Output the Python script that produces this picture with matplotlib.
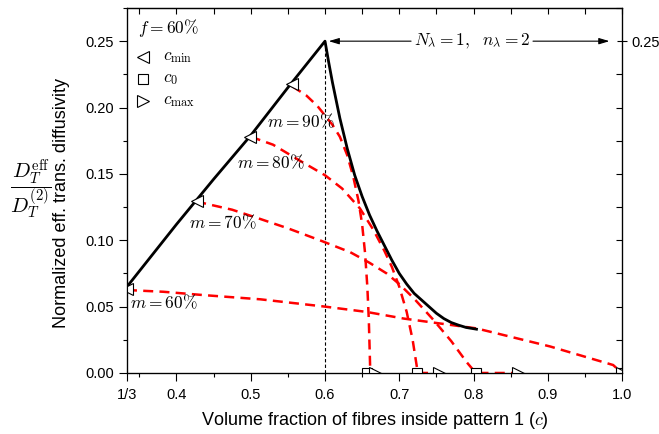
import matplotlib
matplotlib.use('Agg')
import matplotlib.pyplot as plt
from matplotlib.ticker import MultipleLocator, FixedLocator

plt.rcParams['font.family'] = 'Liberation Sans'
plt.rcParams['mathtext.fontset'] = 'cm'

# black envelope curve (N_lambda = 1, n_lambda = 2)
env_c = [1/3, 0.40, 0.45, 0.50, 0.55, 0.600, 0.605, 0.610, 0.620, 0.630, 0.640,
         0.650, 0.660, 0.670, 0.680, 0.690, 0.700, 0.710, 0.720, 0.730, 0.740,
         0.750, 0.760, 0.770, 0.780, 0.790, 0.804]
env_d = [0.065, 0.112, 0.146, 0.179, 0.215, 0.250, 0.234, 0.219, 0.192, 0.169, 0.149,
         0.133, 0.119, 0.107, 0.096, 0.085, 0.075, 0.067, 0.060, 0.055, 0.050,
         0.045, 0.041, 0.038, 0.0360, 0.0343, 0.033]

# red dashed curves for each m
m90_c = [0.556, 0.575, 0.590, 0.600, 0.610, 0.620, 0.630, 0.638, 0.645, 0.650,
         0.654, 0.657, 0.659, 0.661, 0.668]
m90_d = [0.216, 0.209, 0.201, 0.194, 0.187, 0.178, 0.164, 0.148, 0.130, 0.112,
         0.090, 0.065, 0.040, 0.0, 0.0]

m80_c = [0.500, 0.530, 0.566, 0.600, 0.623, 0.647, 0.665, 0.680, 0.690, 0.700,
         0.710, 0.718, 0.725, 0.753]
m80_d = [0.178, 0.172, 0.160, 0.149, 0.139, 0.124, 0.108, 0.092, 0.080, 0.065,
         0.046, 0.025, 0.0, 0.0]

m70_c = [0.427, 0.436, 0.475, 0.513, 0.550, 0.593, 0.634, 0.660, 0.683, 0.700,
         0.720, 0.746, 0.770, 0.791, 0.803, 0.860]
m70_d = [0.130, 0.128, 0.123, 0.116, 0.109, 0.100, 0.091, 0.083, 0.075, 0.067,
         0.056, 0.040, 0.024, 0.008, 0.0, 0.0]

m60_c = [1/3, 0.382, 0.436, 0.513, 0.600, 0.656, 0.706, 0.772, 0.804, 0.903, 0.988, 1.0]
m60_d = [0.0625, 0.0612, 0.0587, 0.0555, 0.050, 0.046, 0.041, 0.036, 0.0336, 0.020, 0.006, 0.0]

# special points
cmin_c = [0.555, 0.499, 0.427, 1/3]
cmin_d = [0.218, 0.178, 0.1297, 0.063]
c0_c = [0.657, 0.724, 0.803, 1.0]
cmax_c = [0.668, 0.753, 0.860, 1.0]

m_labels = ['$m=90\\%$', '$m=80\\%$', '$m=70\\%$', '$m=60\\%$']
m_label_pos = [(0.567, 0.190), (0.527, 0.159), (0.462, 0.114), (0.383, 0.0535)]

legend_title = '$f=60\\%$'
legend_labels = ['$c_{\\min}$', '$c_0$', '$c_{\\max}$']
legend_markers = ['<', 's', '>']

xtick_vals = [1/3, 0.4, 0.5, 0.6, 0.7, 0.8, 0.9, 1.0]
xtick_txt = ['1/3', '0.4', '0.5', '0.6', '0.7', '0.8', '0.9', '1.0']

fig = plt.figure(figsize=(6.59, 4.34), dpi=100)
ax = fig.add_axes([0.1927, 0.1406, 0.7512, 0.841])

red = dict(color='#ff0000', lw=1.8, dashes=(4, 2.5), zorder=2)
for cc, dd in [(m90_c, m90_d), (m80_c, m80_d), (m70_c, m70_d), (m60_c, m60_d)]:
    ax.plot(cc, dd, **red)

ax.plot(env_c, env_d, color='k', lw=2.0, zorder=3, solid_joinstyle='round')
ax.plot([0.6, 0.6], [0, 0.25], color='k', lw=0.8, dashes=(3, 2), zorder=1)

mk = dict(ls='none', mfc='white', mec='k', mew=0.8, zorder=5)
msize = {'<': 9, 's': 7, '>': 9}
ax.plot(cmin_c, cmin_d, marker='<', ms=9, **mk)
ax.plot(c0_c, [0]*len(c0_c), marker='s', ms=7, **mk)
ax.plot(cmax_c, [0]*len(cmax_c), marker='>', ms=9, **mk)

for lab, (x, y) in zip(m_labels, m_label_pos):
    ax.text(x, y, lab, fontsize=12.5, ha='center', va='center', zorder=6)

# arrows: N_lambda, n_lambda
ann_txt = '$N_{\\boldsymbol{\\lambda}}=1,\\ \\ n_{\\boldsymbol{\\lambda}}=2$'
ap = dict(arrowstyle='-|>,head_length=0.5,head_width=0.15', color='k', lw=0.8,
          shrinkA=0, shrinkB=0)
ax.annotate(ann_txt, xy=(0.605, 0.25), xytext=(0.798, 0.25), fontsize=12.5,
            ha='center', va='center', arrowprops=ap)
ax.annotate(ann_txt, xy=(0.983, 0.25), xytext=(0.798, 0.25), fontsize=12.5,
            ha='center', va='center', color='none', arrowprops=ap)

# hand-made legend in the upper left corner
ax.text(0.022, 0.944, legend_title, transform=ax.transAxes, fontsize=12.5,
        ha='left', va='center')
for i, (m, lab) in enumerate(zip(legend_markers, legend_labels)):
    yy = 0.865 - i * 0.06
    ax.plot([0.032], [yy], marker=m, ms=msize[m], transform=ax.transAxes, **mk)
    ax.text(0.073, yy, lab, transform=ax.transAxes, fontsize=12.5,
            ha='left', va='center')

ax.set_xlim(1/3, 1.0)
ax.set_ylim(0, 0.275)
ax.xaxis.set_major_locator(FixedLocator(xtick_vals))
ax.set_xticklabels(xtick_txt)
ax.xaxis.set_minor_locator(FixedLocator([0.35, 0.45, 0.55, 0.65, 0.75, 0.85, 0.95]))
ax.yaxis.set_major_locator(MultipleLocator(0.05))
ax.yaxis.set_minor_locator(MultipleLocator(0.025))
ax.yaxis.set_major_formatter(plt.FuncFormatter(lambda v, p: '%.2f' % v))
ax.tick_params(which='major', direction='out', length=6, width=0.8, labelsize=10.5)
ax.tick_params(axis='x', which='major', pad=4.5)
ax.tick_params(which='minor', direction='out', length=3, width=0.8)
for s in ax.spines.values():
    s.set_linewidth(0.9)

# top and right decorations
axt = ax.secondary_xaxis('top')
axt.xaxis.set_major_locator(MultipleLocator(0.05))
axt.tick_params(direction='in', length=4, width=0.8, labeltop=False)
axr = ax.twinx()
axr.set_ylim(0, 0.275)
axr.yaxis.set_major_locator(FixedLocator([0.25]))
axr.yaxis.set_minor_locator(MultipleLocator(0.025))
axr.set_yticklabels(['0.25'])
axr.tick_params(which='major', direction='inout', length=7, width=0.8, labelsize=10.5)
axr.tick_params(which='minor', direction='in', length=4, width=0.8)

ax.set_xlabel('Volume fraction of fibres inside pattern 1 ($c$)', fontsize=13, labelpad=6)
ax.set_ylabel('Normalized eff. trans. diffusivity', fontsize=13)
ax.yaxis.set_label_coords(-0.115, 0.465)
fig.text(0.047, 0.565, '$\\dfrac{D_T^{\\rm eff}}{D_T^{(2)}}$', fontsize=15,
         ha='center', va='center')

fig.savefig('out.png', dpi=100)
